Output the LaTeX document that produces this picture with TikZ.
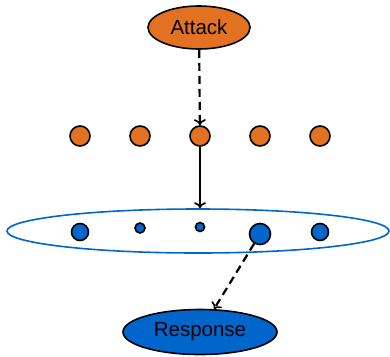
\documentclass[tikz,border=0pt]{standalone}
\usepackage{fontspec}
\setmainfont{Liberation Sans}
\usetikzlibrary{arrows.meta,shapes.geometric}
\definecolor{attackorange}{RGB}{226,114,34}
\definecolor{respblue}{RGB}{0,102,204}
\begin{document}
\begin{tikzpicture}[x=1pt,y=-1pt,
  endnode/.style={ellipse,draw=black,line width=1.6pt,inner sep=0pt,
    font=\fontsize{20.5}{24}\selectfont},
  odot/.style={circle,draw=black,line width=1.6pt,fill=attackorange,inner sep=0pt,minimum size=20pt},
  bdot/.style={circle,draw=black,line width=1.6pt,fill=respblue,inner sep=0pt},
  link/.style={line width=2.2pt,-{To[length=6pt,width=12pt,line width=1.6pt]}},
  dlink/.style={link,dash pattern=on 8pt off 5pt}]
\useasboundingbox (0,0) rectangle (390,356);
% trigger
\node[endnode,fill=attackorange,minimum width=102pt,minimum height=43pt] (attack) at (199,27.5) {Attack};
% upper layer
\foreach \i/\x in {1/80,2/140,3/200,4/260,5/320}
  \node[odot] (o\i) at (\x,136) {};
% lower layer, enclosed group
\node[ellipse,draw=respblue,line width=1.6pt,minimum width=382pt,minimum height=44pt,inner sep=0pt] (group) at (198,231) {};
\node[bdot,minimum size=17pt] (b1) at (80,232) {};
\node[bdot,minimum size=10pt] (b2) at (140,228) {};
\node[bdot,minimum size=9pt] (b3) at (200,227) {};
\node[bdot,minimum size=21pt] (b4) at (260,234) {};
\node[bdot,minimum size=17pt] (b5) at (320,232) {};
% outcome
\node[endnode,fill=respblue,minimum width=154pt,minimum height=45pt] (resp) at (200,332) {Response};
% connectors
\draw[dlink] (attack) -- (o3);
\draw[link] (o3) -- (o3 |- group.north);
\draw[dlink] (b4) -- (resp);
\end{tikzpicture}
\end{document}
